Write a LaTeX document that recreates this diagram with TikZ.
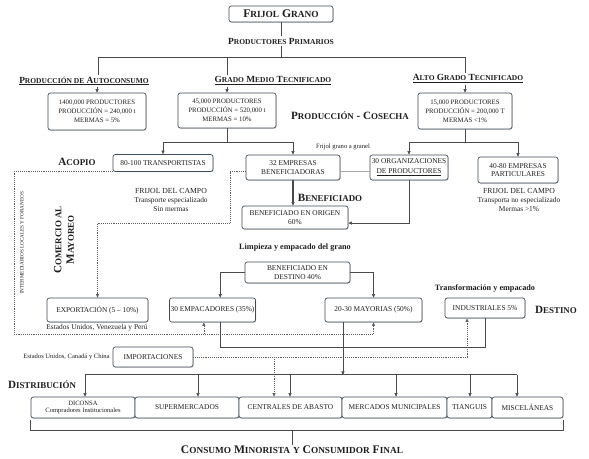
\documentclass[tikz,border=0pt]{standalone}
\usepackage{fontspec}
\setmainfont{Liberation Serif}
\usepackage{graphicx}
\usetikzlibrary{arrows.meta,shadows}
\definecolor{boxline}{HTML}{3E4B58}
\definecolor{wiregray}{HTML}{4A4A4A}
\definecolor{dotgray}{HTML}{5E5E5E}
\definecolor{ink}{HTML}{1E1E1E}
\newcommand\fsc[2]{#1\scalebox{0.8}{#2}}
\newcommand\pxu{0.03cm}

\tikzset{
  box/.style={draw=boxline, line width=0.6pt, rounded corners=2pt, fill=white,
    align=center, inner sep=1pt, text=ink, font=\fontsize{6.3}{7.2}\selectfont,
    drop shadow={shadow xshift=0.5pt, shadow yshift=-0.6pt, opacity=0.45}},
  prodbox/.style={box, font=\fontsize{5.8}{6.8}\selectfont},
  wh/.style 2 args={minimum width=#1*\pxu, minimum height=#2*\pxu},
  head/.style={font=\bfseries\fontsize{8}{9}\selectfont, text=ink, inner sep=1pt},
  big/.style={font=\bfseries\fontsize{9.5}{10.5}\selectfont, text=ink, inner sep=1pt, align=center},
  note/.style={font=\fontsize{5.6}{6.6}\selectfont, text=ink, align=center, inner sep=1pt},
  campo/.style={note, font=\fontsize{6.3}{7.3}\selectfont},
  wire/.style={draw=wiregray, line width=0.5pt},
  dots/.style={draw=dotgray, line width=0.6pt, densely dotted},
  arr/.style={-{Triangle[length=3pt,width=2.6pt]}},
  arrs/.style={{Triangle[length=3pt,width=2.6pt]}-{Triangle[length=3pt,width=2.6pt]}},
}

\begin{document}
\begin{tikzpicture}[x=\pxu, y=-\pxu]
  \useasboundingbox (0,0) rectangle (589,459);

  % ---------------- productores ----------------
  \node[box, wh={104}{16}, font=\bfseries\fontsize{10}{11}\selectfont] (title) at (281,14) {\fsc{F}{RIJOL} \fsc{G}{RANO}};
  \node[head] (prim) at (281,41) {\fsc{P}{RODUCTORES} \fsc{P}{RIMARIOS}};
  \coordinate (jA) at (98,57);
  \coordinate (jB) at (227,57);
  \coordinate (jC) at (465,57);
  \node[head] (hA) at (84,81) {\underline{\fsc{P}{RODUCCIÓN DE} \fsc{A}{UTOCONSUMO}}};
  \node[head] (hB) at (273,81) {\underline{\fsc{G}{RADO} \fsc{M}{EDIO} \fsc{T}{ECNIFICADO}}};
  \node[head] (hC) at (468,79) {\underline{\fsc{A}{LTO} \fsc{G}{RADO} \fsc{T}{ECNIFICADO}}};
  \node[prodbox, wh={98}{37}] (A) at (97,111.5) {1400,000 PRODUCTORES\\[1pt] PRODUCCIÓN = 240,000 t\\[1pt] MERMAS = 5\%};
  \node[prodbox, wh={98}{35}] (B) at (227,110.5) {45,000 PRODUCTORES\\[1pt] PRODUCCIÓN = 520,000 t\\[1pt] MERMAS = 10\%};
  \node[prodbox, wh={94}{36}] (C) at (465,111) {15,000 PRODUCTORES\\[1pt] PRODUCCIÓN = 200,000 T\\[1pt] MERMAS <1\%};
  \node[big] (cosecha) at (350,116) {\fsc{P}{RODUCCIÓN} - \fsc{C}{OSECHA}};

  \draw[wire] (title) -- (prim);
  \draw[wire] (prim) -- (prim |- jA);
  \draw[wire] (jA) -- (jC);
  \draw[wire] (jA) -- (jA |- hA.north);
  \draw[wire] (jB) -- (jB |- hB.north);
  \draw[wire] (jC) -- (jC |- hC.north);
  \draw[wire, arr] (A.north |- hA.south) -- (A.north);
  \draw[wire, arr] (B.north |- hB.south) -- (B.north);
  \draw[wire, arr] (C.north |- hC.south) -- (C.north);

  % ---------------- acopio y beneficiado ----------------
  \coordinate (rowB) at (0,142);
  \node[big] (acopio) at (77,162) {\fsc{A}{COPIO}};
  \node[note] (granel) at (343,147) {Frijol grano a granel};
  \node[box, wh={100}{17}] (T) at (163,163) {80-100 TRANSPORTISTAS};
  \node[box, wh={94}{25}] (E) at (293,167.5) {32 EMPRESAS\\BENEFICIADORAS};
  \node[box, wh={78}{25}] (O) at (409,167.5) {30 ORGANIZACIONES\\[1pt]\underline{DE PRODUCTORES}};
  \node[box, wh={80}{26}] (P) at (518,170) {40-80 EMPRESAS\\PARTICULARES};
  \node[campo] (campoT) at (171,200) {{\fontsize{6.6}{7.4}\selectfont FRIJOL DEL CAMPO}\\Transporte especializado\\Sin mermas};
  \node[campo] (campoP) at (519,200) {{\fontsize{6.6}{7.4}\selectfont FRIJOL DEL CAMPO}\\Transporta no especializado\\Mermas >1\%};
  \node[big] (benef) at (330,198) {\fsc{B}{ENEFICIADO}};
  \node[box, wh={106}{23}] (BO) at (295,217.5) {BENEFICIADO EN ORIGEN\\60\%};

  \draw[wire] (B) -- (B |- rowB);
  \draw[wire, arrs] (T.north) |- (rowB -| E.north) -- (E.north);
  \draw[wire] (C) -- (C |- rowB);
  \draw[wire, arrs] (O.north) |- (rowB -| P.north) -- (P.north);
  \draw[wire, draw=gray!70] (E.-5) -- (E.-5 -| O.west);
  \draw[wire, line width=1.2pt, arr] (E.south) -- (E.south |- BO.north);
  \draw[wire, arr] (O.south) |- (BO.-6);

  % ---------------- comercio al mayoreo ----------------
  \coordinate (k1) at (230,223);
  \coordinate (k2) at (14,334);
  \node[rotate=90, font=\fontsize{4.4}{5}\selectfont, text=ink] (inter) at (22,243) {INTERMEDIARIOS LOCALES Y FORANEOS};
  \node[big, rotate=90] (comercio) at (64,240) {\fsc{C}{OMERCIO AL}\\\fsc{M}{AYOREO}};
  \node[font=\bfseries\fontsize{7}{8}\selectfont, text=ink] (limp) at (295,248) {Limpieza y empacado del grano};
  \node[box, wh={105}{21}] (BD) at (297.5,272.5) {BENEFICIADO EN\\DESTINO 40\%};
  \node[font=\bfseries\fontsize{7}{8}\selectfont, text=ink] (transf) at (485,288) {Transformación y empacado};
  \node[box, wh={101}{24}] (X) at (97.5,310) {EXPORTACIÓN (5 – 10\%)};
  \node[box, wh={79}{24}] (EM) at (212.5,310) {30 EMPACADORES (35\%)};
  \node[box, wh={97}{24}] (MA) at (373.5,310) {20-30 MAYORIAS (50\%)};
  \node[box, wh={80}{20}] (IN) at (485,308) {INDUSTRIALES 5\%};
  \node[big] (destino) at (556,310) {\fsc{D}{ESTINO}};
  \node[note, font=\fontsize{6.3}{7}\selectfont] (paisX) at (97,328) {Estados Unidos, Venezuela y Perú};
  \node[box, wh={80}{20}] (IM) at (153,357) {IMPORTACIONES};
  \node[note, anchor=east] (paisIM) at (111,357) {Estados Unidos, Canadá y China};

  \draw[dots, arr] (E.185) -| (k1) -| (X.north);
  \draw[dots, arr] (T.south west) -| (k2) -| (MA.south);
  \draw[dots, arr] (EM.235 |- k2) -- (EM.235);
  \draw[wire, arr] (BD.west) -| (EM.58);
  \draw[wire, arr] (BD.east) -| (MA.north);
  \coordinate (k3) at (0,347);
  \draw[wire] (EM.302) |- (k3 -| IN.south) -- (IN.south);
  \coordinate (kCE) at (274,0);

  % ---------------- distribucion ----------------
  \coordinate (bar) at (0,375);
  \node[big] (distr) at (42,385) {\fsc{D}{ISTRIBUCIÓN}};
  \node[box, wh={104}{21}, font=\fontsize{5.6}{6.6}\selectfont] (DI) at (83,407.5) {DICONSA\\Compradores Institucionales};
  \node[box, wh={104}{21}] (SU) at (187,407.5) {SUPERMERCADOS};
  \node[box, wh={103}{21}] (CE) at (290.5,407.5) {CENTRALES DE ABASTO};
  \node[box, wh={105}{21}] (ME) at (394.5,407.5) {MERCADOS MUNICIPALES};
  \node[box, wh={45}{21}] (TI) at (469.5,407.5) {TIANGUIS};
  \node[box, wh={71}{21}] (MI) at (527.5,407.5) {MISCELÁNEAS};
  \node[big, font=\bfseries\fontsize{9.9}{11}\selectfont] (cons) at (292,450) {\fsc{C}{ONSUMO} \fsc{M}{INORISTA} \fsc{}{Y} \fsc{C}{ONSUMIDOR} \fsc{F}{INAL}};

  \draw[dots, arr] (IM.east) -| (IN.210);
  \draw[dots, arr] (IM.east -| kCE) -- (kCE |- CE.north);
  \draw[wire, line width=1.3pt] ([xshift=2*\pxu, yshift=22*\pxu]DI.north) -- ([xshift=-10.5*\pxu, yshift=22*\pxu]MI.north);
  \foreach \n/\dx in {DI/2, SU/11, CE/-0.5, ME/1.5, TI/0.5, MI/-10.5}
    \draw[wire, arr] ([xshift=\dx*\pxu, yshift=22*\pxu]\n.north) -- ([xshift=\dx*\pxu]\n.north);
  \draw[wire, arr] (MA.202) -- (MA.202 |- bar);
  \coordinate (brc) at (0,430);
  \draw[wire] ([yshift=-2*\pxu]DI.south west) |- (brc -| MI.south east) -- ([yshift=-2*\pxu]MI.south east);
  \draw[wire, line width=0.8pt] (cons.north) -- (cons.north |- brc);
\end{tikzpicture}
\end{document}
